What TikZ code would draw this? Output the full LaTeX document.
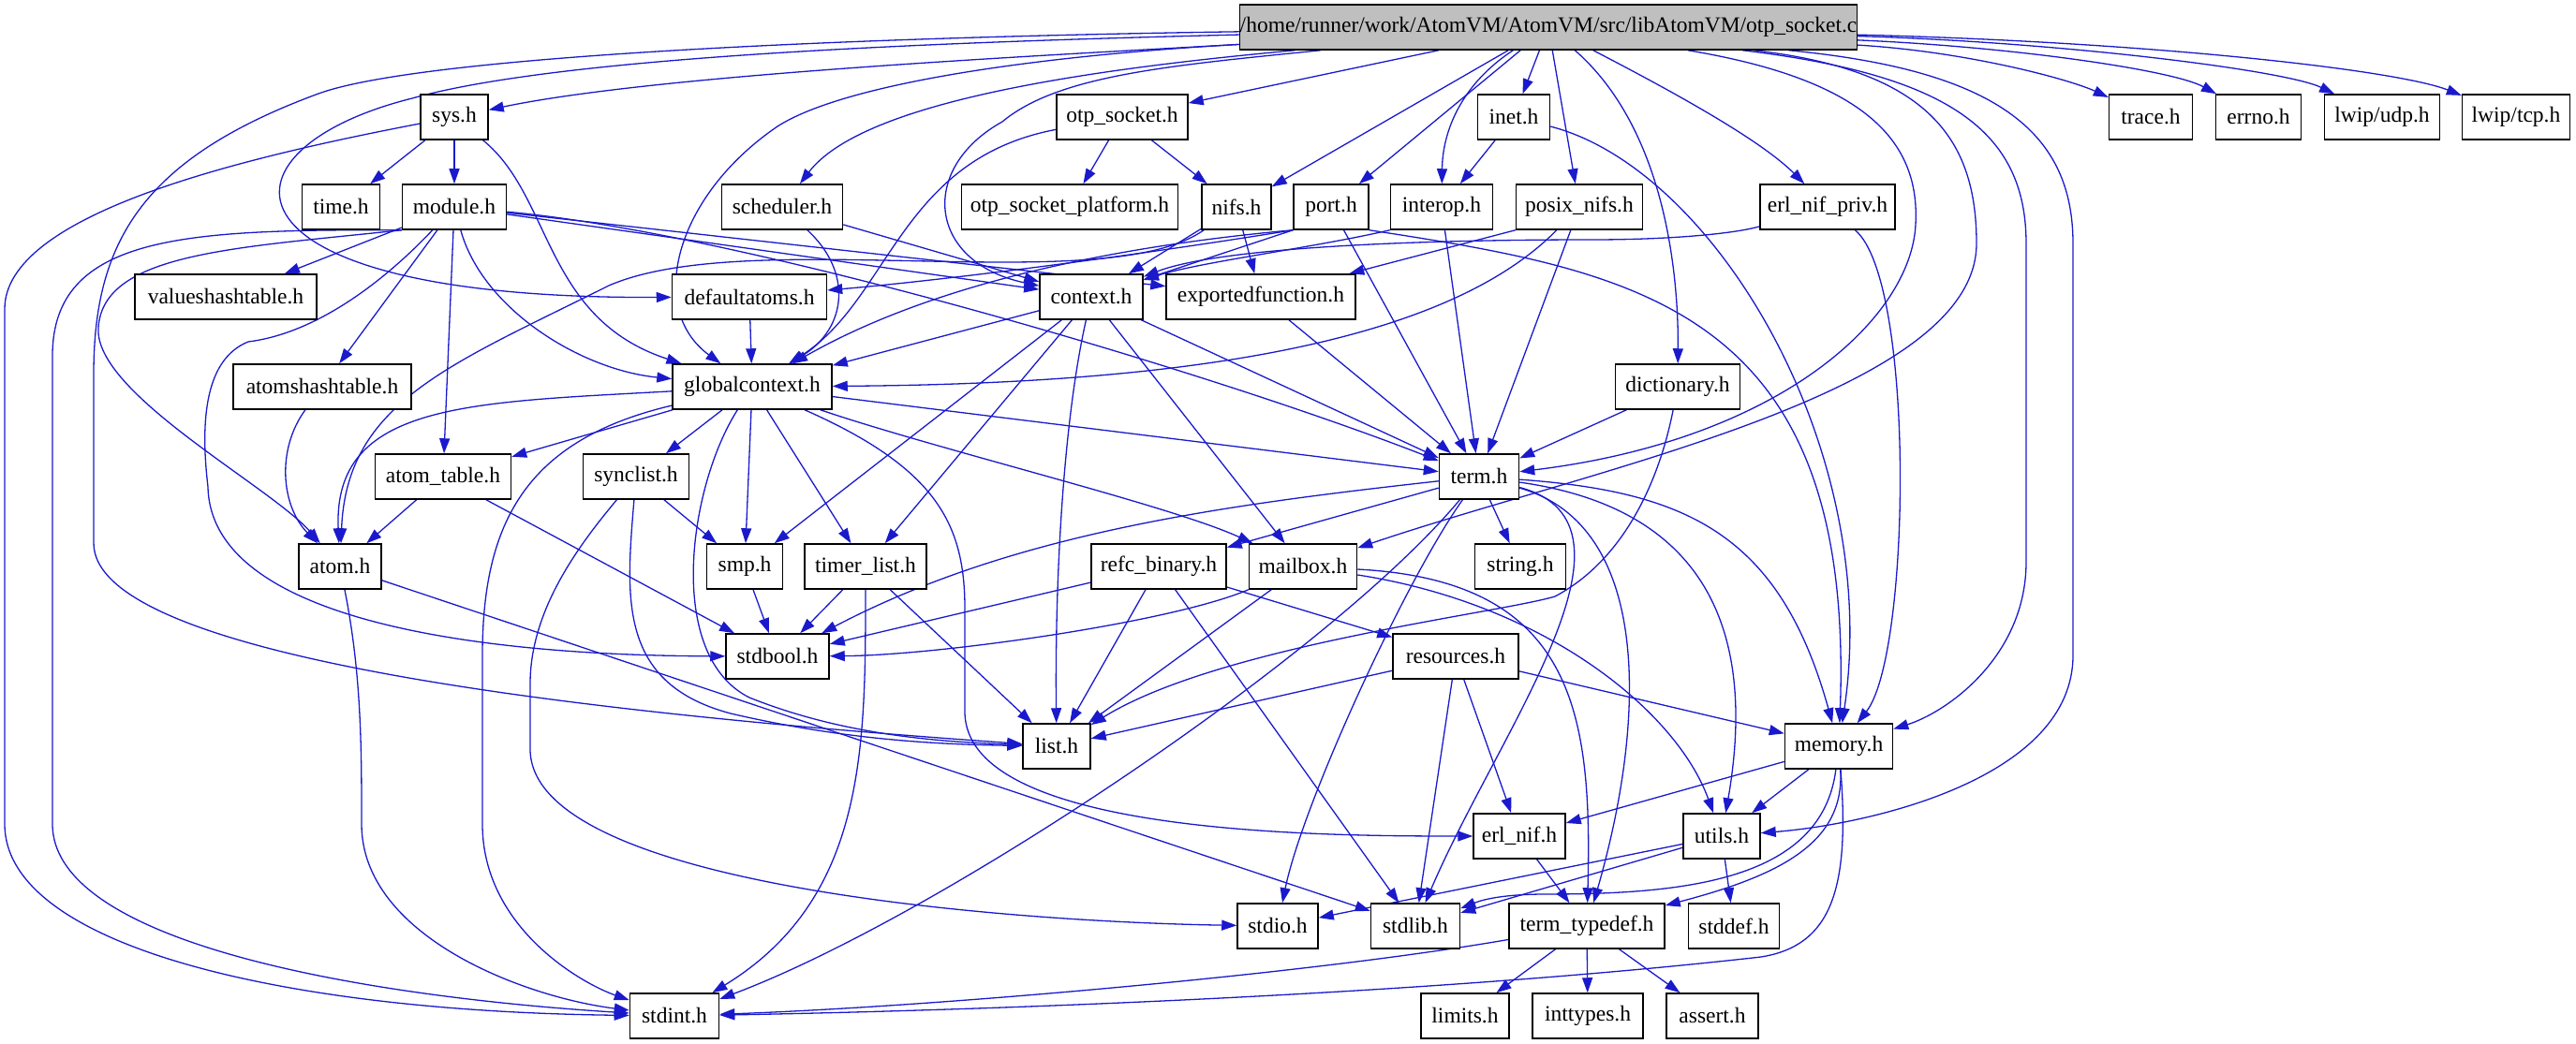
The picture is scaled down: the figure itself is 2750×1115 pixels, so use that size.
\documentclass[tikz,border=0pt]{standalone}
\usepackage{fontspec}
\setmainfont{Liberation Serif}
\usetikzlibrary{arrows.meta,backgrounds}
\definecolor{edgeblue}{RGB}{26,26,204}
\definecolor{topgray}{RGB}{191,191,191}
\begin{document}
\begin{tikzpicture}[x=1pt,y=-1pt,
  box/.style={draw=black, line width=1.5pt, fill=white, minimum height=48pt, inner sep=0pt,
              font=\fontsize{23.5}{28}\selectfont},
  dep/.style={draw=edgeblue, line width=1.3pt, -{Triangle[length=16pt,width=11pt]}}]
\useasboundingbox (0,0) rectangle (2750,1115);
% row 0
\node[box, fill=topgray, minimum width=650pt] (top) at (1653,29) {/home/runner/work/AtomVM/AtomVM/src/libAtomVM/otp\_socket.c};
% row 1
\node[box, minimum width=72pt]  (sys)     at (485,125)  {sys.h};
\node[box, minimum width=140pt] (otpsock) at (1198,125) {otp\_socket.h};
\node[box, minimum width=77pt]  (inet)    at (1616,125) {inet.h};
\node[box, minimum width=89pt]  (trace)   at (2296,125) {trace.h};
\node[box, minimum width=91pt]  (errno)   at (2411,125) {errno.h};
\node[box, minimum width=123pt] (udp)     at (2543,125) {lwip/udp.h};
\node[box, minimum width=115pt] (tcp)     at (2686,125) {lwip/tcp.h};
% row 2
\node[box, minimum width=83pt]  (time)    at (364,221)  {time.h};
\node[box, minimum width=111pt] (module)  at (485,221)  {module.h};
\node[box, minimum width=129pt] (sched)   at (835,221)  {scheduler.h};
\node[box, minimum width=231pt] (otpplat) at (1142,221) {otp\_socket\_platform.h};
\node[box, minimum width=74pt]  (nifs)    at (1320,221) {nifs.h};
\node[box, minimum width=80pt]  (port)    at (1421,221) {port.h};
\node[box, minimum width=109pt] (interop) at (1539,221) {interop.h};
\node[box, minimum width=135pt] (posix)   at (1686,221) {posix\_nifs.h};
\node[box, minimum width=144pt] (enp)     at (1951,221) {erl\_nif\_priv.h};
% row 3
\node[box, minimum width=194pt] (vht)      at (241,317)  {valueshashtable.h};
\node[box, minimum width=165pt] (defatoms) at (800,317)  {defaultatoms.h};
\node[box, minimum width=110pt] (context)  at (1165,317) {context.h};
\node[box, minimum width=202pt] (expfun)   at (1346,317) {exportedfunction.h};
% row 4
\node[box, minimum width=190pt] (aht)  at (344,413)  {atomshashtable.h};
\node[box, minimum width=170pt] (gctx) at (803,413)  {globalcontext.h};
\node[box, minimum width=133pt] (dict) at (1791,413) {dictionary.h};
% row 5
\node[box, minimum width=145pt] (atomtable) at (473,509)  {atom\_table.h};
\node[box, minimum width=113pt] (synclist)  at (679,509)  {synclist.h};
\node[box, minimum width=85pt]  (term)      at (1579,509) {term.h};
% row 6
\node[box, minimum width=88pt]  (atom)      at (363,605)  {atom.h};
\node[box, minimum width=81pt]  (smp)       at (795,605)  {smp.h};
\node[box, minimum width=130pt] (timerlist) at (924,605)  {timer\_list.h};
\node[box, minimum width=144pt] (refc)      at (1237,605) {refc\_binary.h};
\node[box, minimum width=115pt] (mailbox)   at (1391,605) {mailbox.h};
\node[box, minimum width=97pt]  (string)    at (1623,605) {string.h};
% row 7
\node[box, minimum width=110pt] (stdbool)   at (830,701)  {stdbool.h};
\node[box, minimum width=134pt] (resources) at (1554,701) {resources.h};
% row 8
\node[box, minimum width=72pt]  (list)   at (1128,797) {list.h};
\node[box, minimum width=115pt] (memory) at (1963,797) {memory.h};
% row 9
\node[box, minimum width=98pt] (erlnif) at (1622,893) {erl\_nif.h};
\node[box, minimum width=82pt] (utils)  at (1838,893) {utils.h};
% row 10
\node[box, minimum width=86pt]  (stdio)  at (1364,989) {stdio.h};
\node[box, minimum width=95pt]  (stdlib) at (1511,989) {stdlib.h};
\node[box, minimum width=166pt] (termtd) at (1694,989) {term\_typedef.h};
\node[box, minimum width=97pt]  (stddef) at (1851,989) {stddef.h};
% row 11
\node[box, minimum width=95pt]  (stdint)   at (720,1085)  {stdint.h};
\node[box, minimum width=94pt]  (limits)   at (1564,1085) {limits.h};
\node[box, minimum width=118pt] (inttypes) at (1695,1085) {inttypes.h};
\node[box, minimum width=98pt]  (assert)   at (1828,1085) {assert.h};

\begin{scope}[on background layer]
% ---- from otp_socket.c
\draw[dep] (top) .. controls (1100,60) and (700,80) .. (sys);
\draw[dep] (top) -- (otpsock);
\draw[dep] (top) -- (inet);
\draw[dep] (top) .. controls (2100,55) and (2210,85) .. (trace);
\draw[dep] (top) .. controls (2150,50) and (2320,75) .. (errno);
\draw[dep] (top) .. controls (2200,45) and (2440,75) .. (udp);
\draw[dep] (top) .. controls (2300,45) and (2560,75) .. (tcp);
\draw[dep] (top) .. controls (1150,75) and (920,110) .. (sched);
\draw[dep] (top) -- (nifs);
\draw[dep] (top) -- (port);
\draw[dep] (top) .. controls (1560,90) and (1540,140) .. (interop);
\draw[dep] (top) -- (posix);
\draw[dep] (top) .. controls (1780,140) and (1792,300) .. (dict);
\draw[dep] (top) .. controls (1790,100) and (1880,150) .. (enp);
\draw[dep] (top) .. controls (1990,85) and (2050,150) .. (2045,240) .. controls (2040,340) and (1900,470) .. (term);
\draw[dep] (top) .. controls (2060,75) and (2110,150) .. (2110,260) .. controls (2110,420) and (1700,500) .. (mailbox);
\draw[dep] (top) .. controls (2080,80) and (2163,140) .. (2163,260) -- (2163,600) .. controls (2163,700) and (2080,760) .. (memory);
\draw[dep] (top) .. controls (2130,75) and (2213,140) .. (2213,260) -- (2213,700) .. controls (2213,830) and (2000,880) .. (utils);
\draw[dep] (top) .. controls (1000,45) and (600,60) .. (440,105) .. controls (220,160) and (220,320) .. (defatoms);
\draw[dep] (top) .. controls (900,40) and (450,60) .. (340,100) .. controls (150,170) and (100,260) .. (100,400) -- (100,580) .. controls (100,700) and (600,760) .. (list);
\draw[dep] (top) .. controls (1100,60) and (900,90) .. (830,135) .. controls (720,210) and (690,330) .. (gctx);
\draw[dep] (top) .. controls (1250,70) and (1130,80) .. (1070,130) .. controls (980,180) and (990,280) .. (context);
% ---- sys.h
\draw[dep] (sys) -- (time);
\draw[dep] (sys) -- (module);
\draw[dep] (sys) .. controls (590,210) and (580,340) .. (gctx);
\draw[dep] (sys) .. controls (250,170) and (5,230) .. (5,330) -- (5,880) .. controls (5,1010) and (300,1080) .. (stdint);
% ---- module.h
\draw[dep] (module) -- (vht);
\draw[dep] (module) -- (aht);
\draw[dep] (module) -- (atomtable);
\draw[dep] (module) .. controls (515,330) and (620,395) .. (gctx);
\draw[dep] (module) .. controls (420,290) and (345,355) .. (265,365) .. controls (215,385) and (215,460) .. (222,520) .. controls (225,660) and (500,700) .. (stdbool);
\draw[dep] (module.south west) .. controls (250,265) and (110,270) .. (105,350) .. controls (100,420) and (290,520) .. (atom);
\draw[dep] (module.south west) .. controls (200,245) and (56,250) .. (56,380) -- (56,880) .. controls (56,1010) and (400,1065) .. (stdint);
\draw[dep] (module) -- (context);
\draw[dep] (module) -- (expfun);
\draw[dep] (module) .. controls (800,250) and (1300,400) .. (term);
% ---- scheduler.h
\draw[dep] (sched) -- (context);
\draw[dep] (sched) .. controls (910,290) and (905,350) .. (gctx);
% ---- otp_socket.h
\draw[dep] (otpsock) -- (otpplat);
\draw[dep] (otpsock) -- (nifs);
\draw[dep] (otpsock) .. controls (960,170) and (950,320) .. (gctx);
% ---- inet.h
\draw[dep] (inet) -- (interop);
\draw[dep] (inet) .. controls (1830,180) and (2010,480) .. (memory);
% ---- nifs.h
\draw[dep] (nifs) -- (context);
\draw[dep] (nifs) -- (expfun);
\draw[dep] (nifs) .. controls (1180,320) and (800,240) .. (650,305) .. controls (480,390) and (370,430) .. (atom);
% ---- port.h
\draw[dep] (port.south west) -- (context);
\draw[dep] (port.south west) .. controls (1200,275) and (1000,300) .. (defatoms);
\draw[dep] (port.south west) .. controls (1200,262) and (1000,300) .. (gctx);
\draw[dep] (port) -- (term);
\draw[dep] (port.south east) .. controls (1750,290) and (1980,330) .. (memory);
% ---- interop.h
\draw[dep] (interop.south west) .. controls (1400,265) and (1280,280) .. (context);
\draw[dep] (interop) -- (term);
% ---- posix_nifs.h
\draw[dep] (posix.south west) -- (expfun);
\draw[dep] (posix) -- (term);
\draw[dep] (posix) .. controls (1540,370) and (1250,410) .. (gctx);
% ---- erl_nif_priv.h
\draw[dep] (enp) .. controls (1850,250) and (1780,256) .. (1700,256) .. controls (1500,256) and (1300,265) .. (context);
\draw[dep] (enp) .. controls (2045,300) and (2040,700) .. (memory);
% ---- context.h
\draw[dep] (context) -- (gctx);
\draw[dep] (context) -- (smp);
\draw[dep] (context) -- (timerlist);
\draw[dep] (context) .. controls (1135,450) and (1126,620) .. (list);
\draw[dep] (context) -- (mailbox);
\draw[dep] (context) -- (term);
% ---- others row 3/4
\draw[dep] (expfun) -- (term);
\draw[dep] (defatoms) -- (gctx);
\draw[dep] (aht) .. controls (295,480) and (300,540) .. (atom);
\draw[dep] (dict) -- (term);
\draw[dep] (dict) .. controls (1770,520) and (1730,600) .. (1660,637) .. controls (1600,655) and (1300,690) .. (list);
% ---- globalcontext.h
\draw[dep] (gctx) .. controls (500,430) and (355,430) .. (atom);
\draw[dep] (gctx) -- (atomtable);
\draw[dep] (gctx) -- (synclist);
\draw[dep] (gctx) -- (smp);
\draw[dep] (gctx) -- (timerlist);
\draw[dep] (gctx) .. controls (1000,480) and (1250,540) .. (mailbox);
\draw[dep] (gctx) -- (term);
\draw[dep] (gctx) .. controls (560,470) and (515,560) .. (515,700) -- (515,880) .. controls (515,990) and (620,1050) .. (stdint);
\draw[dep] (gctx) .. controls (735,520) and (710,700) .. (800,745) .. controls (900,785) and (1000,792) .. (list);
\draw[dep] (gctx) .. controls (1000,500) and (1030,560) .. (1030,650) -- (1030,760) .. controls (1030,890) and (1400,893) .. (erlnif);
% ---- atom_table.h, synclist.h
\draw[dep] (atomtable) -- (atom);
\draw[dep] (atomtable) -- (stdbool);
\draw[dep] (synclist) -- (smp);
\draw[dep] (synclist) .. controls (668,640) and (660,730) .. (780,762) .. controls (900,790) and (1000,795) .. (list);
\draw[dep] (synclist) .. controls (620,580) and (566,650) .. (566,730) -- (566,800) .. controls (566,950) and (1100,985) .. (stdio);
% ---- term.h
\draw[dep] (term) -- (refc);
\draw[dep] (term) .. controls (1300,540) and (1080,570) .. (stdbool);
\draw[dep] (term) .. controls (1420,700) and (1000,980) .. (stdint);
\draw[dep] (term) .. controls (1500,620) and (1390,860) .. (stdio);
\draw[dep] (term) -- (string);
\draw[dep] (term) .. controls (1770,560) and (1600,780) .. (stdlib);
\draw[dep] (term) .. controls (1760,560) and (1760,760) .. (termtd);
\draw[dep] (term) .. controls (1800,540) and (1880,650) .. (utils);
\draw[dep] (term) .. controls (1800,525) and (1900,570) .. (memory);
% ---- mailbox.h
\draw[dep] (mailbox) .. controls (1250,665) and (1000,700) .. (stdbool);
\draw[dep] (mailbox) -- (list);
\draw[dep] (mailbox) .. controls (1680,620) and (1700,760) .. (termtd);
\draw[dep] (mailbox) .. controls (1650,645) and (1790,760) .. (utils);
% ---- refc_binary.h
\draw[dep] (refc) -- (stdbool);
\draw[dep] (refc) -- (list);
\draw[dep] (refc) -- (stdlib);
\draw[dep] (refc) -- (resources);
% ---- resources.h
\draw[dep] (resources) -- (list);
\draw[dep] (resources) -- (stdlib);
\draw[dep] (resources) -- (erlnif);
\draw[dep] (resources) -- (memory);
% ---- timer_list.h, smp.h, atom.h
\draw[dep] (timerlist) -- (stdbool);
\draw[dep] (timerlist) -- (list);
\draw[dep] (timerlist) .. controls (924,800) and (924,960) .. (stdint);
\draw[dep] (smp) -- (stdbool);
\draw[dep] (atom) .. controls (386,720) and (386,800) .. (386,880) .. controls (386,1000) and (560,1065) .. (stdint);
\draw[dep] (atom) -- (stdlib);
% ---- erl_nif.h, memory.h
\draw[dep] (erlnif) -- (termtd);
\draw[dep] (memory) -- (erlnif);
\draw[dep] (memory) -- (utils);
\draw[dep] (memory) .. controls (1945,940) and (1800,955) .. (1650,955) .. controls (1600,955) and (1580,962) .. (stdlib);
\draw[dep] (memory) .. controls (1970,900) and (1900,935) .. (termtd);
\draw[dep] (memory) .. controls (1975,950) and (1955,1010) .. (1880,1022) .. controls (1500,1065) and (1000,1080) .. (stdint);
% ---- utils.h
\draw[dep] (utils) -- (stdio);
\draw[dep] (utils) -- (stdlib);
\draw[dep] (utils) -- (stddef);
% ---- term_typedef.h
\draw[dep] (termtd) -- (limits);
\draw[dep] (termtd) -- (inttypes);
\draw[dep] (termtd) -- (assert);
\draw[dep] (termtd) .. controls (1400,1040) and (1000,1075) .. (stdint);
\end{scope}
\end{tikzpicture}
\end{document}
